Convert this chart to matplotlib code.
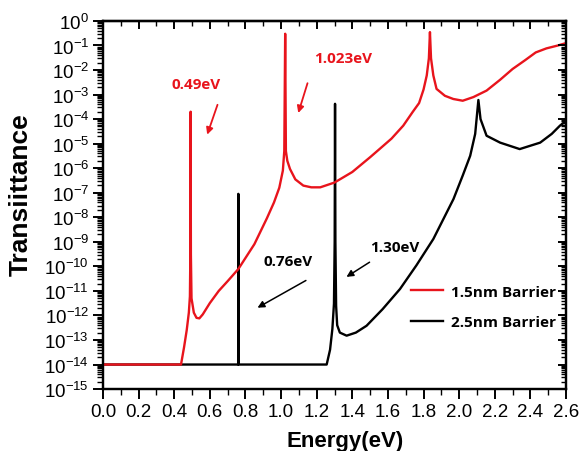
import matplotlib
matplotlib.use("Agg")
import matplotlib.pyplot as plt
from matplotlib.ticker import LogLocator, MultipleLocator, NullFormatter

plt.rcParams['font.family'] = ['Liberation Sans', 'DejaVu Sans']
plt.rcParams['mathtext.fontset'] = 'custom'
plt.rcParams['mathtext.rm'] = 'Liberation Sans'
plt.rcParams['mathtext.it'] = 'Liberation Sans:italic'
plt.rcParams['mathtext.bf'] = 'Liberation Sans:bold'

# -------- data --------
# 1.5nm barrier (red)
energy_15 = [0.00, 0.438, 0.455, 0.470, 0.482, 0.488, 0.4905, 0.492, 0.4935, 0.497,
             0.510, 0.525, 0.541, 0.560, 0.600, 0.650, 0.700, 0.760, 0.850, 0.920,
             0.960, 0.990, 1.010, 1.018, 1.023, 1.027, 1.035, 1.050, 1.080, 1.125,
             1.170, 1.220, 1.300, 1.400, 1.450, 1.500, 1.556, 1.620, 1.686, 1.740,
             1.775, 1.800, 1.818, 1.830, 1.836, 1.842, 1.855, 1.873, 1.920, 1.967,
             2.020, 2.080, 2.154, 2.230, 2.300, 2.370, 2.430, 2.490, 2.555, 2.600]
trans_15 = [1e-14, 1e-14, 5e-14, 2.5e-13, 1.3e-12, 6e-12, 3e-10, 2e-4, 3e-10, 5e-12,
            1.3e-12, 8e-13, 7.6e-13, 1.1e-12, 3.2e-12, 1e-11, 2.5e-11, 7.8e-11, 8e-10, 9e-9,
            4e-8, 1.6e-7, 8e-7, 5e-6, 0.3, 5e-6, 2e-6, 9.3e-7, 3.5e-7, 1.95e-7,
            1.66e-7, 1.66e-7, 2.6e-7, 7e-7, 1.4e-6, 2.8e-6, 6.3e-6, 1.6e-5, 5.4e-5, 2e-4,
            4.5e-4, 1.6e-3, 6e-3, 3e-2, 0.35, 3e-2, 6e-3, 1.7e-3, 8.9e-4, 6.6e-4,
            5.6e-4, 7.9e-4, 1.45e-3, 4e-3, 1.1e-2, 2.5e-2, 5.2e-2, 7.6e-2, 0.1, 0.125]

# 2.5nm barrier (black)
energy_25 = [0.00, 0.759, 0.760, 0.761, 1.256, 1.275, 1.288, 1.297, 1.301, 1.303,
             1.305, 1.309, 1.315, 1.330, 1.368, 1.420, 1.480, 1.570, 1.668, 1.760,
             1.855, 1.968, 2.020, 2.062, 2.090, 2.108, 2.120, 2.154, 2.230, 2.340,
             2.455, 2.520, 2.566, 2.600]
trans_25 = [1e-14, 1e-14, 9e-8, 1e-14, 1e-14, 4e-14, 2.8e-13, 3e-12, 1e-9, 4.2e-4,
            1e-9, 2.5e-12, 4e-13, 2e-13, 1.5e-13, 2e-13, 3.8e-13, 1.8e-12, 1.2e-11, 1.1e-10,
            1.3e-9, 5.5e-8, 5e-7, 3.2e-6, 2.5e-5, 6e-4, 1e-4, 2.1e-5, 1.1e-5, 6e-6,
            1.1e-5, 2.5e-5, 5.4e-5, 8.5e-5]

series_labels = ["1.5nm Barrier", "2.5nm Barrier"]
x_ticks = [0.0, 0.2, 0.4, 0.6, 0.8, 1.0, 1.2, 1.4, 1.6, 1.8, 2.0, 2.2, 2.4, 2.6]

red = '#e8141c'

fig = plt.figure(figsize=(5.82, 4.52), dpi=100)
ax = fig.add_axes([0.177, 0.137, 0.7955, 0.8145])

ax.plot(energy_15, trans_15, color=red, lw=1.7, label=series_labels[0], zorder=3)
ax.plot(energy_25, trans_25, color='black', lw=1.7, label=series_labels[1], zorder=2)

ax.set_yscale('log')
ax.set_xlim(0, 2.6)
ax.set_ylim(1e-15, 1)
ax.set_xticks(x_ticks)
ax.set_xticklabels([f"{v:.1f}" for v in x_ticks])
ax.xaxis.set_minor_locator(MultipleLocator(0.1))
ax.yaxis.set_major_locator(LogLocator(base=10, numticks=20))
ax.yaxis.set_minor_locator(LogLocator(base=10, subs=range(2, 10), numticks=200))
ax.yaxis.set_minor_formatter(NullFormatter())

for s in ax.spines.values():
    s.set_linewidth(1.6)

ax.tick_params(axis='both', which='major', labelsize=13.5, width=1.4, length=7, direction='out')
ax.tick_params(axis='both', which='minor', width=1.0, length=4, direction='out')
ax.tick_params(axis='x', pad=3)
ax.tick_params(axis='y', pad=3)

# mirrored ticks on top and right, pointing inward
axt = ax.secondary_xaxis('top')
axt.set_xticks(x_ticks)
axt.xaxis.set_minor_locator(MultipleLocator(0.1))
axt.tick_params(which='major', direction='in', length=6, width=1.4, labeltop=False)
axt.tick_params(which='minor', direction='in', length=3.5, width=1.0)
axt.spines['top'].set_linewidth(1.6)

axr = ax.twinx()
axr.set_yscale('log')
axr.set_ylim(ax.get_ylim())
axr.yaxis.set_major_locator(LogLocator(base=10, numticks=20))
axr.yaxis.set_minor_locator(LogLocator(base=10, subs=range(2, 10), numticks=200))
axr.tick_params(which='major', direction='in', length=6, width=1.4, labelright=False)
axr.tick_params(which='minor', direction='in', length=3.5, width=1.0)
for s in axr.spines.values():
    s.set_linewidth(1.6)

ax.set_xlabel("Energy(eV)", fontsize=16, fontweight='bold')
ax.xaxis.set_label_coords(0.523, -0.112)
ax.set_ylabel("Transiittance", fontsize=19, fontweight='bold')
ax.yaxis.set_label_coords(-0.151, 0.531)

# annotations
ann_font = dict(family=['Open Sans', 'DejaVu Sans'], fontweight='bold', fontsize=11)
ax.text(0.52, 10**-2.58, "0.49eV", color=red, ha='center', va='center', **ann_font)
ax.annotate('', xy=(0.58, 10**-4.74), xytext=(0.648, 10**-3.31),
            arrowprops=dict(arrowstyle='-|>', color=red, lw=1.3, mutation_scale=10))
ax.text(1.35, 10**-1.52, "1.023eV", color=red, ha='center', va='center', **ann_font)
ax.annotate('', xy=(1.092, 10**-3.86), xytext=(1.153, 10**-2.43),
            arrowprops=dict(arrowstyle='-|>', color=red, lw=1.3, mutation_scale=10))
ax.text(1.041, 10**-9.77, "0.76eV", color='black', ha='center', va='center', **ann_font)
ax.annotate('', xy=(0.854, 10**-11.74), xytext=(1.153, 10**-10.52),
            arrowprops=dict(arrowstyle='-|>', color='black', lw=1.1, mutation_scale=10))
ax.text(1.64, 10**-9.23, "1.30eV", color='black', ha='center', va='center', **ann_font)
ax.annotate('', xy=(1.354, 10**-10.49), xytext=(1.51, 10**-9.77),
            arrowprops=dict(arrowstyle='-|>', color='black', lw=1.1, mutation_scale=10))

ax.legend(loc='upper left', bbox_to_anchor=(0.706, 0.368), bbox_transform=fig.transFigure,
          frameon=False, borderpad=0, borderaxespad=0, handlelength=2.1, handletextpad=0.55,
          labelspacing=1.1, prop=dict(family=['Open Sans', 'DejaVu Sans'], weight='bold', size=11))

fig.savefig("out.png", dpi=100)
